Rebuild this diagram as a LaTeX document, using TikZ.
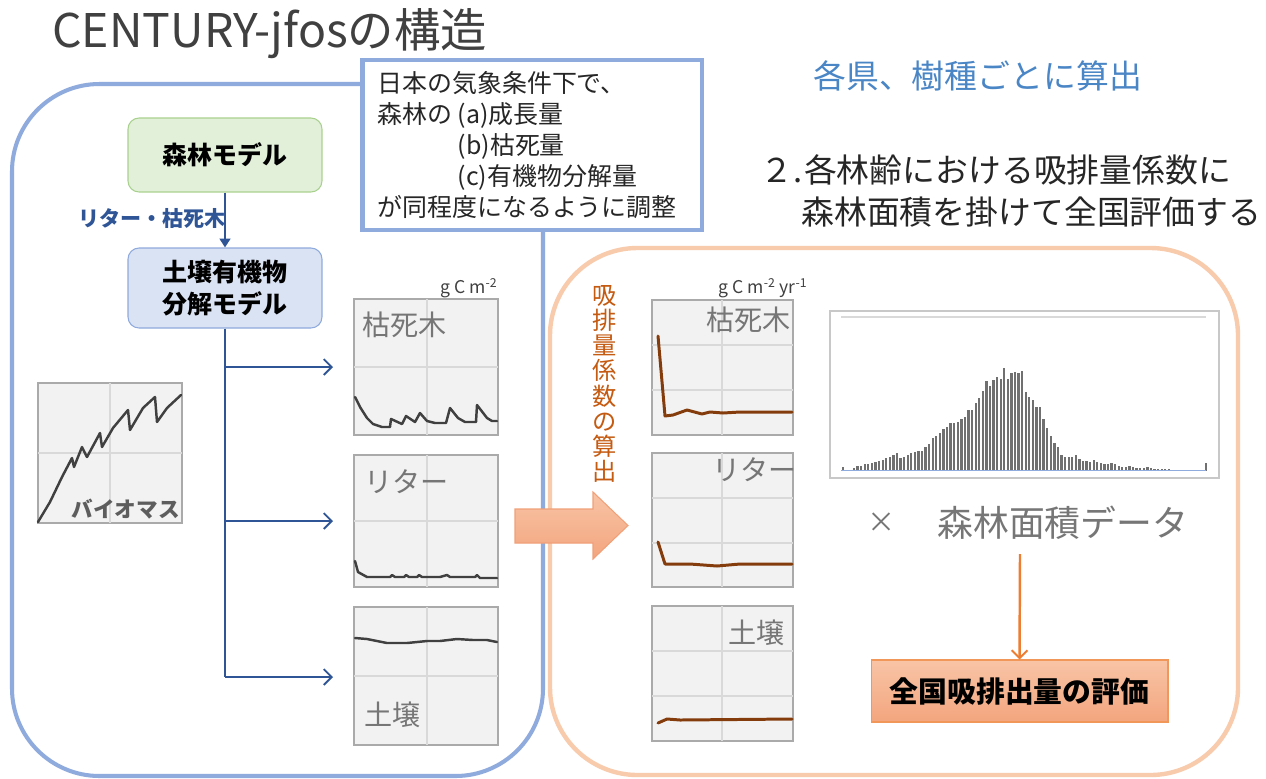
\documentclass[tikz,border=0pt]{standalone}
\usepackage{fontspec}
\setmainfont{Noto Sans CJK JP}
\usetikzlibrary{arrows.meta}
\definecolor{bigblue}{RGB}{143,170,220}
\definecolor{peach}{RGB}{248,203,173}
\definecolor{fgreen}{RGB}{226,240,217}
\definecolor{fgreenb}{RGB}{169,209,142}
\definecolor{sblue}{RGB}{218,227,243}
\definecolor{sblueb}{RGB}{143,170,220}
\definecolor{conblue}{RGB}{47,85,151}
\definecolor{chartfill}{RGB}{242,242,242}
\definecolor{chartedge}{RGB}{170,170,170}
\definecolor{gridc}{RGB}{217,217,217}
\definecolor{curvedark}{RGB}{64,64,64}
\definecolor{curvebrown}{RGB}{132,60,12}
\definecolor{vorange}{RGB}{197,90,17}
\definecolor{arrowo}{RGB}{237,125,49}
\definecolor{labgray}{RGB}{118,118,118}
\definecolor{titlegray}{RGB}{64,64,64}
\definecolor{skyblue}{RGB}{74,134,198}
\definecolor{bargray}{RGB}{112,112,112}
\definecolor{txtdark}{RGB}{38,38,38}
\definecolor{histedge}{RGB}{200,200,200}
\definecolor{oarrtop}{RGB}{248,196,166}
\definecolor{oarrbot}{RGB}{243,165,126}
\definecolor{oarredge}{RGB}{240,160,120}
\begin{document}
\begin{tikzpicture}[x=0.02cm,y=-0.02cm,
  every node/.style={inner sep=0pt},
  bigbox/.style={draw=bigblue,line width=2.3pt,rounded corners=1.75cm},
  orbox/.style={draw=peach,line width=2.5pt,rounded corners=1.75cm},
  notebox/.style={draw=bigblue,line width=2.8pt,fill=white,minimum width=6.8cm,minimum height=3.4cm},
  modelbox/.style={draw,line width=0.6pt,rounded corners=0.22cm,minimum width=3.88cm,align=center,
    font=\fontsize{14.2}{17.8}\selectfont\bfseries,text=black},
  chartbox/.style={fill=chartfill,draw=chartedge,line width=0.8pt},
  gridl/.style={draw=gridc,line width=0.8pt},
  curveg/.style={draw=curvedark,line width=1.4pt,line join=round,line cap=round},
  curveb/.style={draw=curvebrown,line width=1.7pt,line join=round,line cap=round},
  clabel/.style={font=\fontsize{16}{18}\selectfont,text=labgray},
  unitlbl/.style={font=\fontsize{10}{12}\selectfont,text=titlegray},
  conn/.style={draw=conblue,line width=1.4pt},
  barb/.style={-{Straight Barb[length=4.5pt,width=9pt,line width=1.1pt]}},
  histbar/.style={draw=bargray,line width=1.3pt}
]
\useasboundingbox (0,0) rectangle (1266,778);
\fill[white] (0,0) rectangle (1266,778);

% title
\node[anchor=base west,font=\fontsize{26.4}{30}\selectfont,text=titlegray] (title) at (52,47) {CENTURY-jfosの構造};

% big frames
\draw[bigbox] (12,84) rectangle (543,776);
\draw[orbox] (550,248) rectangle (1238,775);

% note box
\node[notebox] (note) at (532,145) {};
\node[anchor=west,align=left,font=\fontsize{14.2}{17.6}\selectfont,text=txtdark] (notetext) at (377,145)
  {日本の気象条件下で、\\
   森林の\ (a)成長量\\
   \phantom{森林の}\ (b)枯死量\\
   \phantom{森林の}\ (c)有機物分解量\\
   が同程度になるように調整};

% model boxes
\node[modelbox,fill=fgreen,draw=fgreenb,minimum height=1.48cm] (forest) at (225,155) {森林モデル};
\node[modelbox,fill=sblue,draw=sblueb,minimum height=1.6cm] (soil) at (225,288) {土壌有機物\\分解モデル};
\node[anchor=east,font=\fontsize{12}{14}\selectfont\bfseries,text=conblue] (ltlabel) at (226,218) {リター・枯死木};
\draw[conn,-{Triangle[length=5pt,width=6pt]}] (forest) -- (soil);

% trunk and branches
\coordinate (b1) at (225,367);
\coordinate (b2) at (225,521);
\coordinate (b3) at (225,677);
\coordinate (e1) at (333,367);
\coordinate (e2) at (333,521);
\coordinate (e3) at (333,677);
\draw[conn] (soil.south) -- (b3);
\draw[conn,barb] (b1) -- (e1);
\draw[conn,barb] (b2) -- (e2);
\draw[conn,barb] (b3) -- (e3);

% biomass chart
\draw[chartbox] (38,383) rectangle (182,523);
\draw[gridl] (110,383) -- (110,523) (38,453) -- (182,453);
\draw[curveg] plot coordinates {(38,522) (50,502) (62,477) (72,458) (74,467) (82,447) (87,457) (100,433) (102,447) (113,428) (128,410) (130,430) (143,408) (155,397) (157,422) (167,408) (181,395)};
\node[anchor=east,font=\fontsize{12.3}{14}\selectfont\bfseries,text=titlegray!85] (bio) at (180,509) {バイオマス};

% left charts
\node[anchor=east,unitlbl] (unitl) at (498,288) {g C m\textsuperscript{-2}};
\draw[chartbox] (354,299) rectangle (498,435);
\draw[gridl] (427,299) -- (427,435) (354,367) -- (498,367);
\node[anchor=west,clabel] (lk1) at (362,325) {枯死木};
\draw[curveg] plot coordinates {(355,397) (360,407) (367,418) (373,424) (382,427) (390,427) (391,419) (402,424) (406,416) (415,422) (420,413) (427,421) (435,423) (446,423) (450,408) (458,418) (465,422) (476,422) (477,405) (487,418) (492,421) (497,421)};

\draw[chartbox] (354,455) rectangle (498,587);
\draw[gridl] (427,455) -- (427,587) (354,521) -- (498,521);
\node[anchor=west,clabel] (lk2) at (364,482) {リター};
\draw[curveg] plot coordinates {(355,561) (358,572) (367,577) (390,577) (392,575) (395,577) (404,577) (406,575) (409,577) (417,577) (419,575) (422,577) (440,577) (447,575) (450,577) (475,577) (477,575) (480,578) (497,578)};

\draw[chartbox] (354,607) rectangle (498,745);
\draw[gridl] (427,607) -- (427,745) (354,676) -- (498,676);
\node[anchor=west,clabel] (lk3) at (364,715) {土壌};
\draw[curveg] plot coordinates {(355,638) (367,639) (387,643) (407,643) (427,641) (440,641) (457,639) (473,640) (487,640) (497,642)};

% middle charts
\node[anchor=east,unitlbl] (unitm) at (808,288) {g C m\textsuperscript{-2} yr\textsuperscript{-1}};
\draw[chartbox] (652,300) rectangle (793,435);
\draw[gridl] (722,300) -- (722,435) (652,345) -- (793,345) (652,390) -- (793,390);
\node[anchor=east,clabel] (mk1) at (791,320) {枯死木};
\draw[curveb] plot coordinates {(658,336) (665,416) (673,415) (687,410) (702,414) (710,412) (723,413) (740,412) (792,412)};

\draw[chartbox] (652,453) rectangle (793,587);
\draw[gridl] (722,453) -- (722,587) (652,498) -- (793,498) (652,543) -- (793,543);
\node[anchor=east,clabel] (mk2) at (797,470) {リター};
\draw[curveb] plot coordinates {(658,542) (665,564) (690,564) (717,566) (740,564) (792,564)};

\draw[chartbox] (652,606) rectangle (793,741);
\draw[gridl] (722,606) -- (722,741) (652,651) -- (793,651) (652,696) -- (793,696);
\node[anchor=east,clabel] (mk3) at (785,633) {土壌};
\draw[curveb] plot coordinates {(658,723) (667,719) (680,720) (792,719)};

% vertical label
\node[align=center,font=\fontsize{13.8}{14.35}\selectfont,text=vorange] (vlabel) at (605,384)
  {吸\\排\\量\\係\\数\\の\\算\\出};

% big arrow
\path[draw=oarredge,line width=0.6pt,top color=oarrtop,bottom color=oarrbot]
  (515,509) -- (593,509) -- (593,492) -- (628,525.5) -- (593,559) -- (593,543) -- (515,543) -- cycle;

% histogram
\draw[draw=histedge,line width=0.6pt,fill=white] (830,311) rectangle (1219,478);
\draw[gridc,line width=1.2pt] (841,317) -- (1206,317);
\foreach \h [count=\i] in {10,0,2,7,14,14,19,19,24,27,29,32,37,41,46,52,37,42,48,53,55,60,60,72,80,99,104,114,125,132,142,144,147,156,162,182,182,202,217,239,269,255,272,280,276,307,274,292,297,292,300,236,220,212,190,190,154,129,104,82,71,47,41,42,41,46,34,29,29,27,32,25,22,20,20,24,20,14,12,12,14,10,8,8,9,10,7,5,6,4,5,4,3,3,3,3,3}
  {\draw[histbar] ({843.3+(\i-1)*3.577},470.7) -- ++(0,{-\h/3});}
\draw[histbar] (1205.7,470.7) -- ++(0,-7.3);
\draw[bigblue,line width=0.8pt] (841,470.7) -- (1206,470.7);

% right texts
\node[anchor=west,font=\fontsize{18.7}{22}\selectfont,text=skyblue] (pref) at (813,76) {各県、樹種ごとに算出};
\node[anchor=west,font=\fontsize{18.7}{22}\selectfont,text=txtdark] (step1) at (760,170) {２.\hspace{1pt}各林齢における吸排量係数に};
\node[anchor=west,font=\fontsize{18.7}{22}\selectfont,text=txtdark] (step2) at (801,212) {森林面積を掛けて全国評価する};

\node[font=\fontsize{16}{18}\selectfont,text=labgray] (times) at (882,523) {×};
\node[anchor=west,font=\fontsize{20.4}{24}\selectfont,text=labgray] (area) at (937,523) {森林面積データ};

\node[draw=arrowo!80,line width=0.6pt,top color=oarrtop,bottom color=oarrbot,minimum width=5.94cm,minimum height=1.24cm,
  font=\fontsize{16.4}{19}\selectfont\bfseries,text=black] (result) at (1019.5,691) {全国吸排出量の評価};
\coordinate (oa) at (1020,554);
\draw[arrowo,line width=1.4pt,-{Straight Barb[length=4.5pt,width=9pt,line width=1.1pt]}] (oa) -- (result.north);

\end{tikzpicture}
\end{document}
